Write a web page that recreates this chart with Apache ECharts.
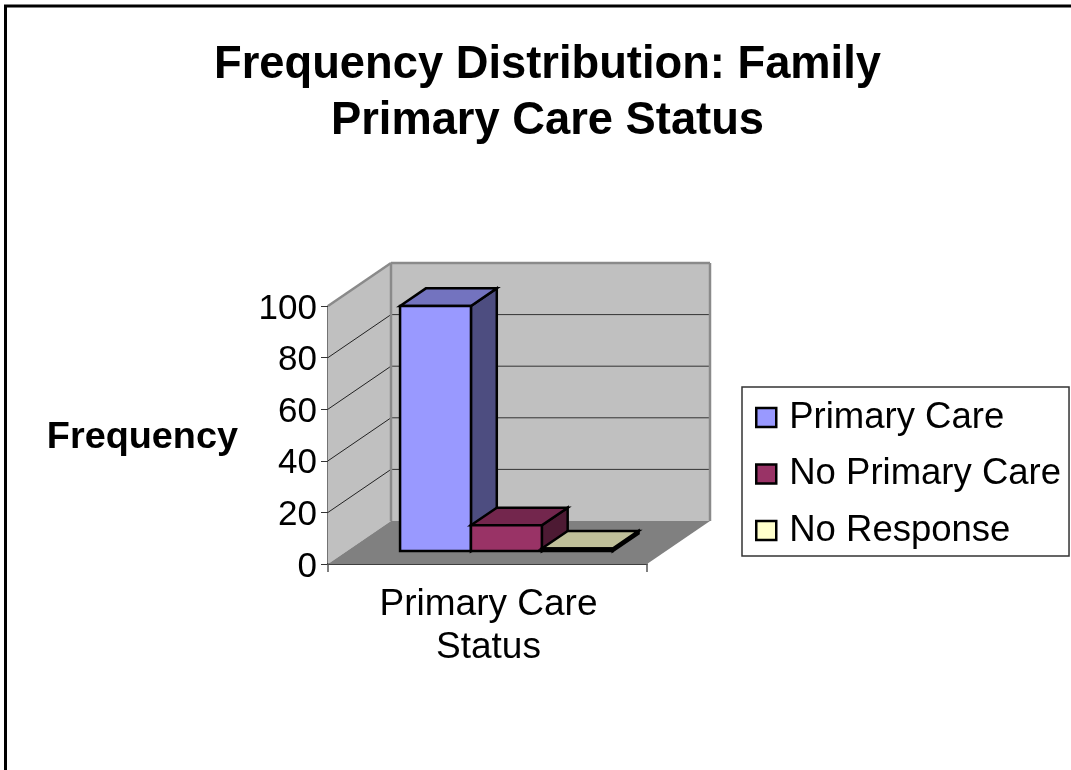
<!DOCTYPE html>
<html><head><meta charset="utf-8">
<style>html,body{margin:0;padding:0;background:#fff}#c{width:1071px;height:770px}</style>
<script src="https://cdn.jsdelivr.net/npm/echarts@6/dist/echarts.min.js"></script>
</head><body><div id="c"></div>
<script>
const categories = ['Primary Care\nStatus'];
const seriesNames = ['Primary Care', 'No Primary Care', 'No Response'];
const primaryCare = [95];
const noPrimaryCare = [10];
const noResponse = [1];
const yTicks = [0, 20, 40, 60, 80, 100];
const chartTitle = 'Frequency Distribution: Family\nPrimary Care Status';
const yName = 'Frequency';

const FONT = '"Liberation Sans", Arial, sans-serif';
const DX = 63, DY = -43;
const faces = [
  {front:'#9999FF', top:'#7373BF', side:'#4D4D80'},
  {front:'#993366', top:'#73264D', side:'#4D1A33'},
  {front:'#FFFFCC', top:'#BFBF99', side:'#808066'}
];
const chart = echarts.init(document.getElementById('c'), null, {renderer:'canvas'});

function poly(points, fill, stroke, lw, z2){
  return {type:'polygon', z2:z2||0, shape:{points}, style:{fill, stroke:stroke||null, lineWidth:lw||0, lineJoin:'miter'}};
}
function line(a, b, stroke, lw, z2){
  return {type:'line', z2:z2||1, shape:{x1:a[0],y1:a[1],x2:b[0],y2:b[1]}, style:{stroke, lineWidth:lw}};
}
function renderWalls(params, api){
  const band = api.size([1,0])[0];
  const cx = api.coord([0,0])[0];
  const l = cx - band/2, r = cx + band/2;
  const y0 = api.coord([0,0])[1], yT = api.coord([0,100])[1];
  const ch = [
    poly([[l,yT],[l+DX,yT+DY],[l+DX,y0+DY],[l,y0]], '#C0C0C0'),
    poly([[l+DX,yT+DY],[r+DX,yT+DY],[r+DX,y0+DY],[l+DX,y0+DY]], '#C0C0C0'),
    poly([[l,y0],[r,y0],[r+DX,y0+DY],[l+DX,y0+DY]], '#808080')
  ];
  yTicks.slice(1,-1).forEach(v=>{
    const y = api.coord([0,v])[1];
    ch.push(line([l,y],[l+DX,y+DY],'#222',1));
    ch.push(line([l+DX,y+DY],[r+DX,y+DY],'#333',1));
  });
  const g = '#8a8a8a';
  ch.push(line([l,yT],[l+DX,yT+DY],g,2.5,2));
  ch.push(line([l+DX,yT+DY],[r+DX,yT+DY],g,2.5,2));
  ch.push(line([r+DX,yT+DY],[r+DX,y0+DY],g,2.5,2));
  ch.push(line([l+DX,yT+DY],[l+DX,y0+DY],g,2.5,2));
  return {type:'group', children:ch};
}
function barRenderer(i){
  return function(params, api){
    const band = api.size([1,0])[0];
    const w = band/4.5;
    const cx = api.coord([0,0])[0];
    const ox = DX*0.3, oy = DY*0.3, dx = DX*0.41, dy = DY*0.41;
    const x0 = cx - 1.5*w + i*w + ox, x1 = x0 + w;
    const yb = api.coord([0,0])[1] + oy;
    const yt = api.coord([0,api.value(1)])[1] + oy;
    const f = faces[i], s = '#000', lw = 2.5;
    return {type:'group', children:[
      poly([[x1,yt],[x1+dx,yt+dy],[x1+dx,yb+dy],[x1,yb]], f.side, s, lw),
      poly([[x0,yt],[x0+dx,yt+dy],[x1+dx,yt+dy],[x1,yt]], f.top, s, lw),
      poly([[x0,yt],[x1,yt],[x1,yb],[x0,yb]], f.front, s, lw)
    ]};
  };
}
const values = [primaryCare, noPrimaryCare, noResponse];
chart.setOption({
  animation:false,
  backgroundColor:'#fff',
  title:{text:chartTitle, left:542.5, top:33, textAlign:'center',
    textStyle:{fontFamily:FONT, fontWeight:'bold', fontSize:45.3, lineHeight:56, color:'#000'}},
  legend:{orient:'vertical', left:742, top:387, data:seriesNames,
    backgroundColor:'#fff', borderColor:'#333', borderWidth:1.5,
    padding:[12,8,7,13], itemWidth:20, itemHeight:19, itemGap:19.5, icon:'rect',
    itemStyle:{borderColor:'#000', borderWidth:2.5},
    textStyle:{fontFamily:FONT, fontSize:36.5, color:'#000', padding:[0,0,0,8]}, selectedMode:false},
  grid:{left:328, top:306, width:319, height:258, containLabel:false},
  xAxis:{type:'category', data:categories,
    axisLine:{onZero:false, lineStyle:{color:'#000', width:1.5}},
    axisTick:{show:true, length:8, lineStyle:{color:'#555', width:1.5}},
    axisLabel:{fontFamily:FONT, fontSize:37, color:'#000', lineHeight:43, margin:19, interval:0, padding:[0,0,0,2]}},
  yAxis:{type:'value', min:0, max:100, interval:20, name:yName, nameLocation:'middle', nameRotate:0, nameGap:90,
    nameTextStyle:{fontFamily:FONT, fontWeight:'bold', fontSize:37.8, color:'#000', verticalAlign:'top', lineHeight:6},
    splitLine:{show:false},
    axisLine:{show:true, lineStyle:{color:'#444', width:1.5}},
    axisTick:{show:true, length:7, lineStyle:{color:'#333', width:1}},
    axisLabel:{fontFamily:FONT, fontSize:35, color:'#000', margin:11, verticalAlign:'top', lineHeight:6,
      formatter:v=>yTicks.includes(v)?String(v):''}},
  series:[
    {type:'custom', name:'walls', silent:true, z:1, clip:false, renderItem:renderWalls, data:[[0,0]], encode:{x:0,y:1}},
  ].concat(seriesNames.map((n,i)=>({
    type:'custom', name:n, z:2+i, clip:false, renderItem:barRenderer(i),
    itemStyle:{color:faces[i].front},
    encode:{x:0,y:1}, data:values[i].map((v,k)=>[k,v])
  }))),
  graphic:[
    {type:'line', z:100, shape:{x1:5.5,y1:6,x2:5.5,y2:770}, style:{stroke:'#000',lineWidth:3}},
    {type:'line', z:100, shape:{x1:4,y1:6,x2:1071,y2:6}, style:{stroke:'#000',lineWidth:3}}
  ]
});
</script></body></html>
